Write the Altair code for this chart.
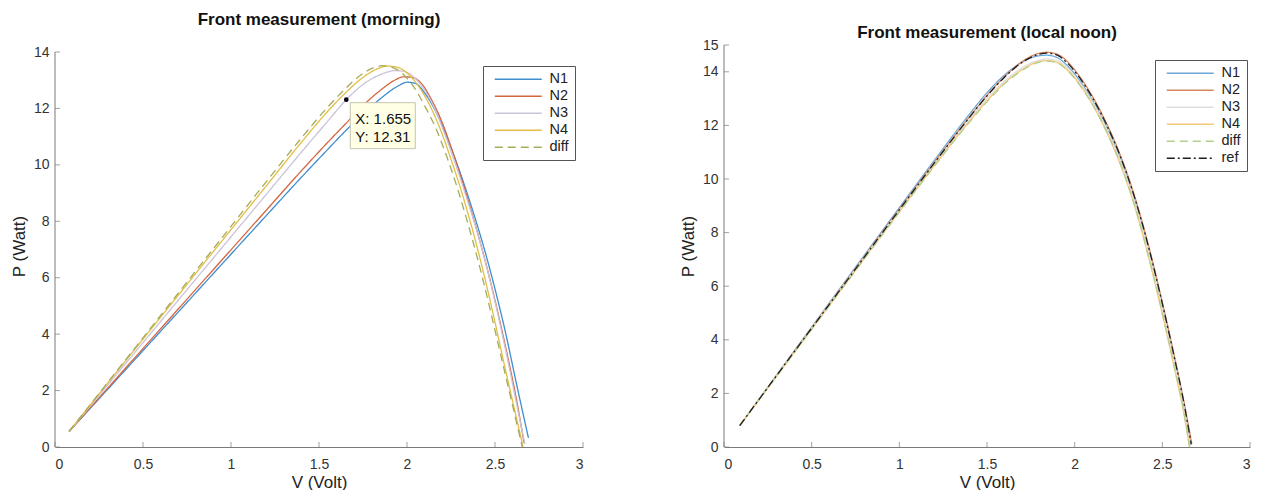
import altair as alt
import pandas as pd

FONT = "Liberation Sans"
AXIS_COLOR = "#7a7a7a"

X_TICKS = [0, 0.5, 1, 1.5, 2, 2.5, 3]
MORNING_Y_TICKS = [0, 2, 4, 6, 8, 10, 12, 14]
NOON_Y_TICKS = [0, 2, 4, 6, 8, 10, 12, 14, 15]

# ---------------- Front measurement (morning) ----------------
M_NAMES = ["N1", "N2", "N3", "N4", "diff"]
M_COLORS = ["#3E8ED0", "#D4673F", "#CBC3D8", "#E2BE48", "#A4AC58"]
M_DASHES = [[1, 0], [1, 0], [1, 0], [1, 0], [8, 5]]

M_N1_V = [0.08, 0.30, 0.60, 0.90, 1.20, 1.40, 1.55, 1.65, 1.75, 1.85, 1.95, 2.00, 2.05, 2.10, 2.15, 2.20, 2.26, 2.32, 2.38, 2.44, 2.50, 2.56, 2.62, 2.69]
M_N1_P = [0.55, 2.05, 4.10, 6.15, 8.20, 9.56, 10.55, 11.20, 11.80, 12.35, 12.80, 12.93, 12.88, 12.55, 12.05, 11.40, 10.45, 9.40, 8.25, 7.00, 5.60, 4.05, 2.30, 0.32]

M_N2_V = [0.08, 0.30, 0.60, 0.90, 1.20, 1.40, 1.55, 1.65, 1.75, 1.85, 1.93, 1.98, 2.03, 2.08, 2.14, 2.20, 2.26, 2.32, 2.38, 2.44, 2.50, 2.56, 2.62, 2.665]
M_N2_P = [0.55, 2.09, 4.19, 6.29, 8.39, 9.79, 10.80, 11.45, 12.10, 12.65, 13.00, 13.12, 13.10, 12.90, 12.30, 11.50, 10.45, 9.30, 8.05, 6.70, 5.20, 3.55, 1.75, 0.15]

M_N3_V = [0.08, 0.30, 0.60, 0.90, 1.20, 1.40, 1.55, 1.655, 1.75, 1.85, 1.93, 1.98, 2.04, 2.10, 2.16, 2.22, 2.28, 2.34, 2.40, 2.46, 2.52, 2.58, 2.63, 2.67]
M_N3_P = [0.55, 2.20, 4.45, 6.70, 8.95, 10.45, 11.55, 12.31, 12.85, 13.20, 13.34, 13.32, 13.10, 12.65, 11.95, 11.00, 9.95, 8.80, 7.60, 6.20, 4.60, 2.85, 1.30, 0.10]

M_N4_V = [0.08, 0.30, 0.60, 0.90, 1.20, 1.40, 1.55, 1.65, 1.75, 1.83, 1.89, 1.95, 2.01, 2.07, 2.13, 2.19, 2.25, 2.31, 2.37, 2.43, 2.49, 2.55, 2.61, 2.66]
M_N4_P = [0.55, 2.27, 4.60, 6.93, 9.25, 10.80, 11.90, 12.55, 13.10, 13.40, 13.50, 13.45, 13.20, 12.75, 12.10, 11.25, 10.20, 9.05, 7.75, 6.30, 4.70, 3.00, 1.35, 0.00]

M_DIFF_V = [0.08, 0.30, 0.60, 0.90, 1.20, 1.40, 1.55, 1.65, 1.73, 1.80, 1.86, 1.92, 1.98, 2.04, 2.10, 2.16, 2.22, 2.28, 2.34, 2.40, 2.46, 2.52, 2.58, 2.655]
M_DIFF_P = [0.55, 2.29, 4.66, 7.03, 9.40, 10.95, 12.05, 12.70, 13.15, 13.42, 13.52, 13.45, 13.20, 12.75, 12.10, 11.35, 10.40, 9.30, 8.05, 6.70, 5.20, 3.60, 2.00, 0.00]

TIP_X = 1.655
TIP_Y = 12.31

# ---------------- Front measurement (local noon) ----------------
N_NAMES = ["N1", "N2", "N3", "N4", "diff", "ref"]
N_COLORS = ["#6EA8D8", "#D98860", "#DEDEDE", "#F4C77A", "#B3D08A", "#1E1E1E"]
N_DASHES = [[1, 0], [1, 0], [1, 0], [1, 0], [8, 5], [8, 3, 2, 3]]

N_V = [0.09, 0.40, 0.70, 1.00, 1.20, 1.40, 1.50, 1.60, 1.70, 1.78, 1.84, 1.90, 1.96, 2.02, 2.10, 2.18, 2.26, 2.34, 2.42, 2.50, 2.57, 2.62]
N_N1_P = [0.80, 3.58, 6.26, 8.93, 10.70, 12.42, 13.22, 13.88, 14.36, 14.58, 14.62, 14.53, 14.22, 13.75, 12.95, 11.95, 10.75, 9.25, 7.40, 5.25, 3.22, 1.68]
N_N2_P = [0.80, 3.56, 6.22, 8.87, 10.62, 12.32, 13.12, 13.82, 14.38, 14.66, 14.73, 14.66, 14.37, 13.90, 13.10, 12.10, 10.90, 9.40, 7.55, 5.40, 3.35, 1.80]
N_N3_P = [0.80, 3.55, 6.20, 8.83, 10.55, 12.22, 13.00, 13.65, 14.15, 14.40, 14.48, 14.42, 14.14, 13.68, 12.90, 11.90, 10.70, 9.20, 7.35, 5.20, 3.15, 1.60]
N_N4_P = [0.80, 3.52, 6.15, 8.78, 10.50, 12.15, 12.92, 13.58, 14.08, 14.35, 14.42, 14.35, 14.06, 13.60, 12.80, 11.78, 10.55, 9.02, 7.12, 4.95, 2.90, 1.35]
N_DIFF_P = [0.80, 3.52, 6.14, 8.76, 10.48, 12.12, 12.88, 13.55, 14.05, 14.32, 14.40, 14.33, 14.04, 13.58, 12.80, 11.80, 10.58, 9.05, 7.15, 5.00, 2.95, 1.40]
N_REF_P = [0.80, 3.55, 6.20, 8.85, 10.60, 12.30, 13.10, 13.80, 14.35, 14.62, 14.70, 14.62, 14.32, 13.85, 13.05, 12.05, 10.85, 9.35, 7.50, 5.35, 3.30, 1.75]
# last point of each noon curve (V, P)
N_END = {"N1": (2.660, 0.10), "N2": (2.668, 0.12), "N3": (2.660, 0.05),
         "N4": (2.655, 0.00), "diff": (2.655, 0.02), "ref": (2.665, 0.10)}

# plot-area sizes (px) of the two panels
M_W, M_H = 528, 395
N_W, N_H = 526, 402


def long_df(series):
    rows = []
    for name, vs, ps in series:
        for v, p in zip(vs, ps):
            rows.append({"series": name, "V": v, "P": p})
    return pd.DataFrame(rows)


morning_df = long_df([
    ("N1", M_N1_V, M_N1_P), ("N2", M_N2_V, M_N2_P), ("N3", M_N3_V, M_N3_P),
    ("N4", M_N4_V, M_N4_P), ("diff", M_DIFF_V, M_DIFF_P),
])

noon_series = []
for name, ps in [("N1", N_N1_P), ("N2", N_N2_P), ("N3", N_N3_P), ("N4", N_N4_P),
                 ("diff", N_DIFF_P), ("ref", N_REF_P)]:
    ev, ep = N_END[name]
    noon_series.append((name, N_V + [ev], ps + [ep]))
noon_df = long_df(noon_series)


def panel(df, names, colors, dashes, y_top, y_ticks, w, h, title, title_offset,
          lx, ly, ytitle_pad, extra=None):
    # the plot areas of the concatenated panels share their top edge; the
    # morning axis ends lower, so its scale runs a bit past its last tick
    y_max = y_ticks[-1] * y_top
    xs = alt.Scale(domain=[0, 3], nice=False, zero=False)
    ys = alt.Scale(domain=[0, y_max], nice=False, zero=False)
    x_enc = alt.X("V:Q", scale=xs,
                  axis=alt.Axis(values=X_TICKS, format="~g", title="V (Volt)",
                                labelPadding=10, titlePadding=3))
    y_enc = alt.Y("P:Q", scale=ys,
                  axis=alt.Axis(values=y_ticks, format="~g", title="P (Watt)",
                                labelPadding=6, titlePadding=ytitle_pad, domain=False))
    leg = alt.Legend(title=None, orient="none", legendX=lx, legendY=ly,
                     symbolType="M-0.3,0H9.1", symbolSize=100, symbolStrokeWidth=1.4,
                     labelFontSize=14.5, labelFont=FONT, labelColor="#222",
                     strokeColor="#555", fillColor="white", padding=6,
                     rowPadding=2, labelOffset=46, cornerRadius=0)
    lines = alt.Chart(df).mark_line(strokeWidth=1.3, interpolate="monotone").encode(
        x=x_enc, y=y_enc,
        color=alt.Color("series:N", scale=alt.Scale(domain=names, range=colors),
                        legend=leg, sort=names),
        strokeDash=alt.StrokeDash("series:N", scale=alt.Scale(domain=names, range=dashes),
                                  legend=leg, sort=names),
    )
    xt = pd.DataFrame({"V": X_TICKS, "P": [0] * len(X_TICKS)})
    yt = pd.DataFrame({"V": [0] * len(y_ticks), "P": y_ticks})
    ya = pd.DataFrame({"V": [0], "P": [y_ticks[0]], "P2": [y_ticks[-1]]})
    yaxis_line = alt.Chart(ya).mark_rule(color=AXIS_COLOR, strokeWidth=1).encode(
        x=x_enc, y=y_enc, y2=alt.Y2("P2"))
    xticks = alt.Chart(xt).mark_tick(orient="vertical", size=5, thickness=1,
                                     yOffset=-2.5, color=AXIS_COLOR).encode(x=x_enc, y=y_enc)
    yticks = alt.Chart(yt).mark_tick(orient="horizontal", size=5, thickness=1,
                                     xOffset=2.5, color=AXIS_COLOR).encode(x=x_enc, y=y_enc)
    layers = [lines, yaxis_line, xticks, yticks]
    if extra is not None:
        layers += extra(x_enc, y_enc)
    return alt.layer(*layers).properties(
        width=w, height=h,
        title=alt.TitleParams(text=title, font=FONT, fontSize=17, fontWeight="bold",
                              color="#111", offset=title_offset, frame="group",
                              anchor="middle"),
    )


def tip_layers(x_enc, y_enc):
    tip = pd.DataFrame({"V": [TIP_X], "P": [TIP_Y],
                        "lx": [f"X: {TIP_X}"], "ly": [f"Y: {TIP_Y}"]})
    box = alt.Chart(tip).mark_rect(fill="#FFFFE6", stroke="#C4C4AE", strokeWidth=1,
                                   xOffset=4, x2Offset=69, yOffset=3, y2Offset=49).encode(
        x=x_enc, x2=alt.X2("V"), y=y_enc, y2=alt.Y2("P"))
    tx = alt.Chart(tip).mark_text(align="left", baseline="middle", dx=9, dy=19,
                                  fontSize=15, font=FONT, color="#111").encode(
        x=x_enc, y=y_enc, text="lx:N")
    ty = alt.Chart(tip).mark_text(align="left", baseline="middle", dx=9, dy=37,
                                  fontSize=15, font=FONT, color="#111").encode(
        x=x_enc, y=y_enc, text="ly:N")
    pt = alt.Chart(tip).mark_circle(size=22, color="black", opacity=1).encode(x=x_enc, y=y_enc)
    return [box, tx, ty, pt]


# both plot areas are N_H tall; the morning axis (0..14) spans M_H of them
left = panel(morning_df, M_NAMES, M_COLORS, M_DASHES, N_H / M_H, MORNING_Y_TICKS, M_W, N_H,
             "Front measurement (morning)", 16, 428, 21, 5, extra=tip_layers)
right = panel(noon_df, N_NAMES, N_COLORS, N_DASHES, 1.0, NOON_Y_TICKS, N_W, N_H,
              "Front measurement (local noon)", -4, 431, 15, 5)

chart = alt.hconcat(left, right, spacing=95).resolve_scale(
    color="independent", strokeDash="independent"
).resolve_legend(
    color="independent", strokeDash="independent"
).properties(
    padding={"left": 2, "top": 3, "right": 2, "bottom": 0}
).configure_view(stroke=None).configure_axis(
    labelFont=FONT, titleFont=FONT, labelFontSize=14, titleFontSize=17,
    titleFontWeight="normal", labelColor="#333", titleColor="#222",
    domainColor=AXIS_COLOR, domainWidth=1, grid=False, ticks=False,
)

chart.save("out.html", embed_options={"renderer": "svg", "actions": False})
